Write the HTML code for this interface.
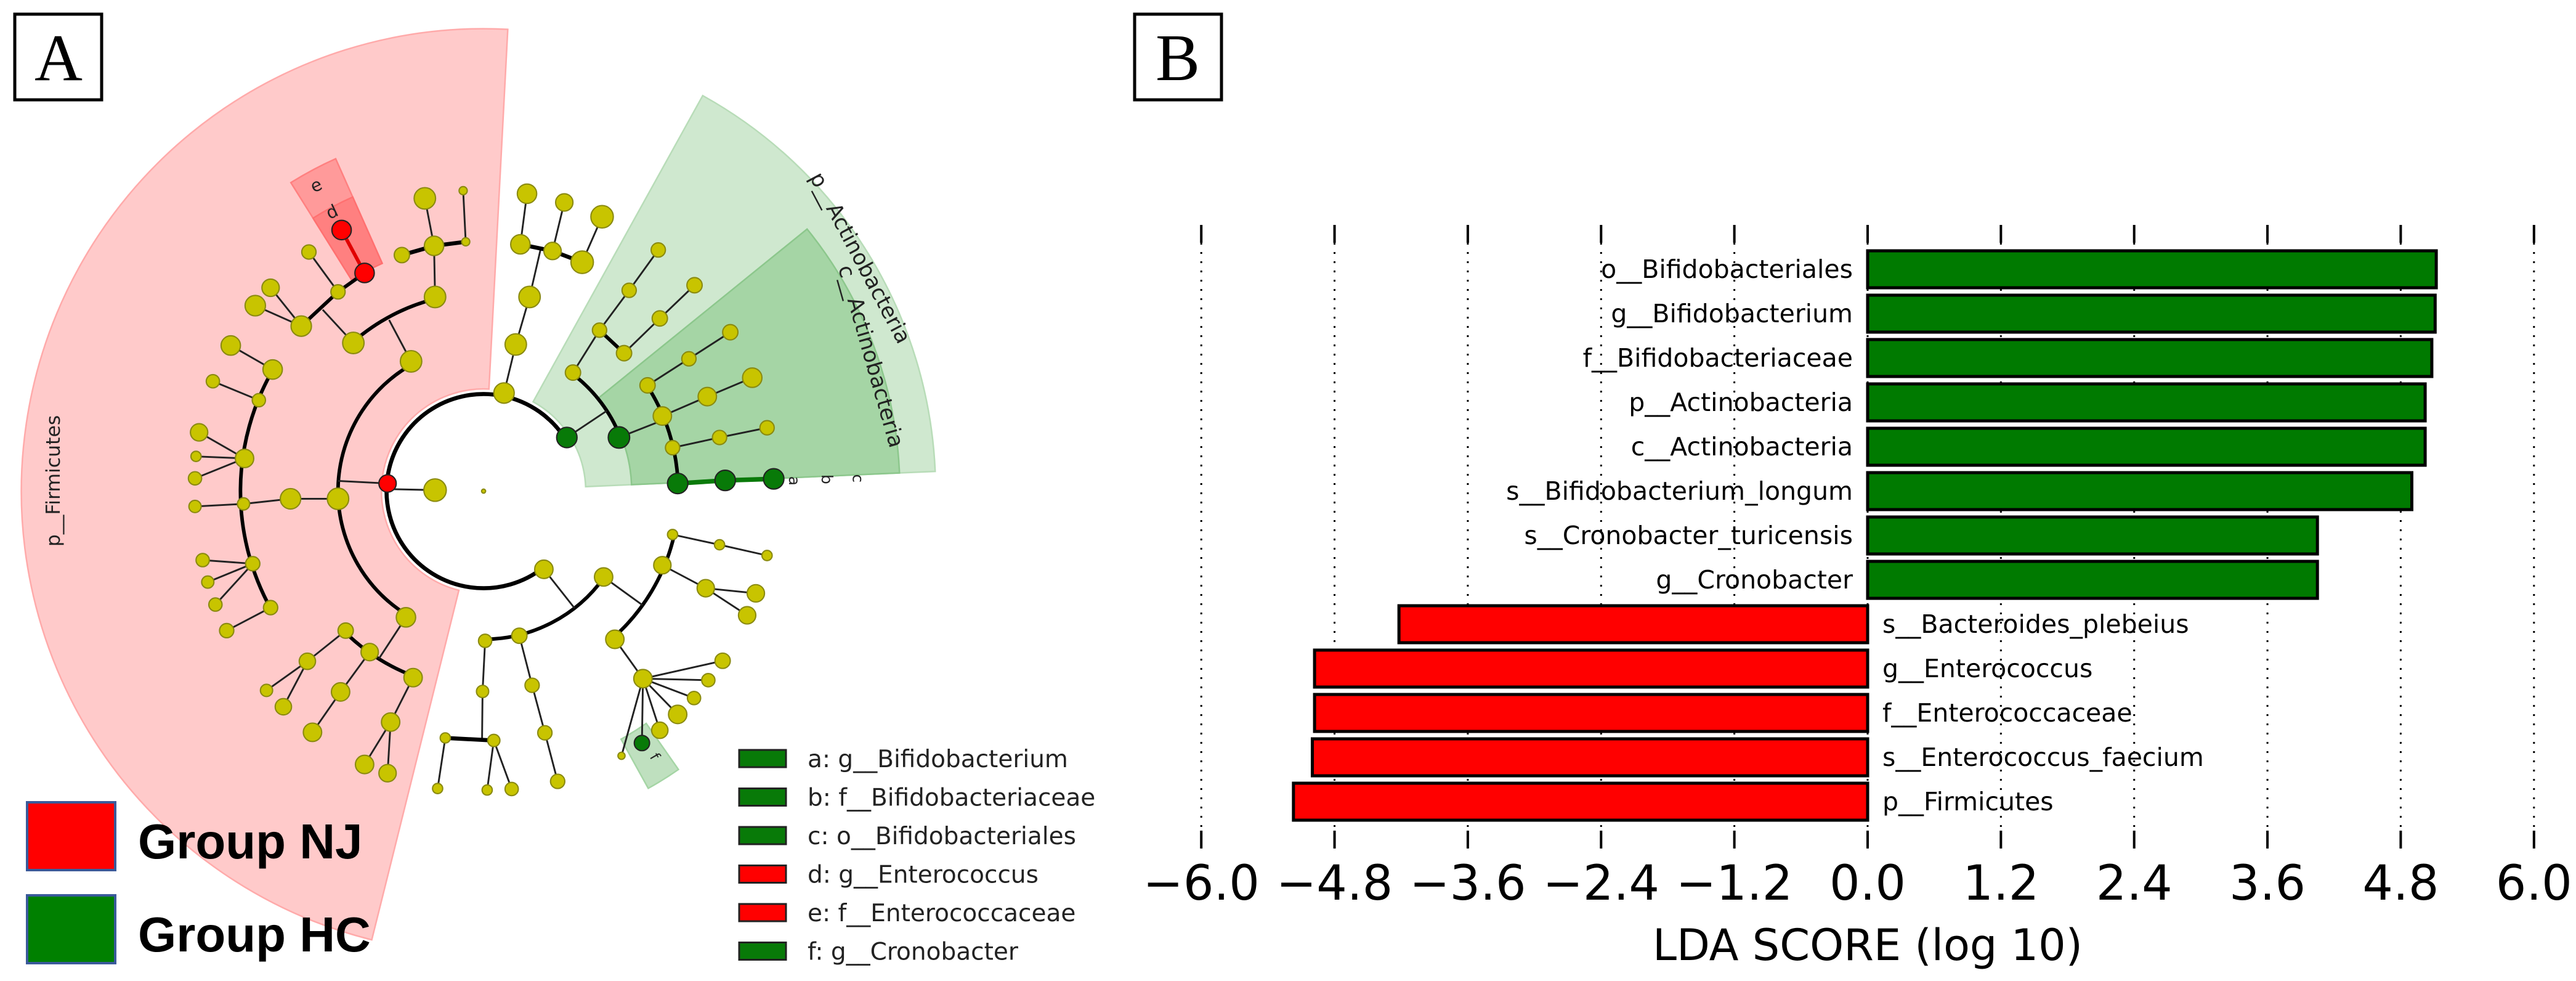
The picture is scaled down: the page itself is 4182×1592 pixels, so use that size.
<!DOCTYPE html>
<html><head><meta charset="utf-8"><style>
html,body{margin:0;padding:0;background:#fff;}
svg{display:block;}
</style></head><body>
<svg id="root" xmlns="http://www.w3.org/2000/svg" width="4182" height="1592" viewBox="0 0 4182 1592">
<rect x="0" y="0" width="4182" height="1592" fill="#fff"/>
<g>
<rect x="24" y="23" width="141" height="139" fill="#fff" stroke="#000" stroke-width="5"/>
<text x="95" y="130" font-family="Liberation Serif, serif" font-size="108" text-anchor="middle">A</text>
</g>
<g>
<rect x="1842" y="23" width="141" height="139" fill="#fff" stroke="#000" stroke-width="5"/>
<text x="1912" y="130" font-family="Liberation Serif, serif" font-size="108" text-anchor="middle">B</text>
</g>
<g id="clado" transform="translate(300 200) scale(0.8292)"></g>
<g>
<rect x="44" y="1302" width="143" height="110" fill="#ff0000" stroke="#3a5a9a" stroke-width="4"/>
<text x="224" y="1393" font-family="Liberation Sans, sans-serif" font-weight="bold" font-size="80">Group NJ</text>
<rect x="44" y="1453" width="143" height="110" fill="#008000" stroke="#3a5a9a" stroke-width="4"/>
<text x="224" y="1544" font-family="Liberation Sans, sans-serif" font-weight="bold" font-size="80">Group HC</text>
</g>
<g id="cladoLegend"></g>
<g id="bars"></g>
</svg>
<script>
const NS='http://www.w3.org/2000/svg';
function mk(tag,attrs,parent){const e=document.createElementNS(NS,tag);for(const k in attrs)e.setAttribute(k,attrs[k]);parent.appendChild(e);return e;}

/* ---------- LDA bar chart data ---------- */
const taxa=['o__Bifidobacteriales','g__Bifidobacterium','f__Bifidobacteriaceae','p__Actinobacteria','c__Actinobacteria','s__Bifidobacterium_longum','s__Cronobacter_turicensis','g__Cronobacter','s__Bacteroides_plebeius','g__Enterococcus','f__Enterococcaceae','s__Enterococcus_faecium','p__Firmicutes'];
const ldaScores=[5.12,5.11,5.08,5.02,5.02,4.90,4.05,4.05,-4.22,-4.98,-4.98,-5.00,-5.17];
const tickValues=[-6.0,-4.8,-3.6,-2.4,-1.2,0.0,1.2,2.4,3.6,4.8,6.0];
const tickLabels=['\u22126.0','\u22124.8','\u22123.6','\u22122.4','\u22121.2','0.0','1.2','2.4','3.6','4.8','6.0'];

const bars=document.getElementById('bars');
const X0=3032, PXU=180.3, ROW0=407, PITCH=72, BH=60;
const xs=v=>X0+v*PXU;
const ys=i=>ROW0+i*PITCH;
const F='DejaVu Sans, Liberation Sans, sans-serif';
tickValues.forEach((v,i)=>{
  const x=xs(v);
  const g=mk('line',{x1:x,y1:394,x2:x,y2:1348,stroke:'#000','stroke-width':3,'stroke-dasharray':'3 12'},bars);
  
  
  const t1=mk('line',{x1:x,y1:365,x2:x,y2:394,stroke:'#000','stroke-width':4},bars);
  
  
  const t2=mk('line',{x1:x,y1:1348,x2:x,y2:1377,stroke:'#000','stroke-width':4},bars);
  
  
  const tl=mk('text',{x:x,y:1460,'font-family':F,'font-size':78,'text-anchor':'middle'},bars);
  tl.textContent=tickLabels[i];
  
  
});
taxa.forEach((name,i)=>{
  const v=ldaScores[i];
  const x1=Math.min(xs(0),xs(v)), w=Math.abs(xs(v)-xs(0));
  const r=mk('rect',{x:x1,y:ys(i),width:w,height:BH,fill:v>0?'#007a00':'#ff0000',stroke:'#000','stroke-width':5},bars);
  
  
  const t=mk('text',{x:v>0?xs(0)-24:xs(0)+24,y:ys(i)+BH/2+14,'font-family':F,'font-size':41,'text-anchor':v>0?'end':'start'},bars);
  t.textContent=name;
  
  
});
const xt=mk('text',{x:xs(0),y:1558,'font-family':F,'font-size':70,'text-anchor':'middle'},bars);
xt.textContent='LDA SCORE (log 10)';



/* ---------- cladogram (diagram, zoom-frame coords) ---------- */
const cl=document.getElementById('clado');
const C=[585,720];
const rad=d=>d*Math.PI/180;
const P=(r,a)=>[C[0]+r*Math.cos(rad(a)),C[1]+r*Math.sin(rad(a))];
function wedge(r1,r2,a1,a2,fill,stroke,name){
  const p1=P(r2,a1),p2=P(r2,a2),p3=P(r1,a2),p4=P(r1,a1);
  const large=(a2-a1)>180?1:0;
  const d=`M${p1} A${r2} ${r2} 0 ${large} 1 ${p2} L${p3} A${r1} ${r1} 0 ${large} 0 ${p4} Z`;
  const e=mk('path',{d:d,fill:fill,stroke:stroke,'stroke-width':3},cl);
  
  
}
wedge(200,905,104,273,'#ffcaca','#ffaaaa','firmicutes-wedge');
wedge(200,885,299,357.5,'#cfe8cf','#b8dcb8','actinobacteria-phylum-wedge');
wedge(290,815,321,357.5,'#a5d5a5','#8cc78c','actinobacteria-class-wedge');
wedge(488,712,238,246,'#ff9a9a','#ff8080','enterococcaceae-wedge');
wedge(488,630,238,246,'#ff8080','#ff7070','enterococcus-wedge');
wedge(555,665,55,61,'#bfe0bf','#a5d5a5','cronobacter-wedge');

function arc(r,a1,a2,w,col){
  const p1=P(r,a1),p2=P(r,a2);const large=(a2-a1)>180?1:0;
  const e=mk('path',{d:`M${p1} A${r} ${r} 0 ${large} 1 ${p2}`,fill:'none',stroke:col||'#000','stroke-width':w},cl);
  
  
}
function line(pts,w,col){
  const e=mk('polyline',{points:pts.map(p=>p.join(',')).join(' '),fill:'none',stroke:col||'#222','stroke-width':w,'stroke-linejoin':'round'},cl);
  
  
}
arc(190,52,327,8);
arc(285,122,241,7);
arc(388,229,256,7);
arc(476,151,210,7);
arc(387,111,135,7);
arc(288,307,338.4,7);
arc(381,327,358,7);
arc(290,35.6,89.4,7);
arc(383,13,48.5,7);
const thin=[
[[397,705],[300,700]],[[400,716],[490,718]],[[443,466],[400,385]],[[490,340],[488,240]],[[488,240],[470,147]],[[550,232],[545,132]],
[[330,430],[270,365]],[[300,330],[243,252]],[[228,397],[168,322]],[[228,397],[138,357]],
[[300,735],[207,735],[115,745],[20,750]],[[172,482],[90,435]],[[145,542],[55,505]],
[[117,656],[28,605]],[[117,656],[22,652]],[[117,656],[20,695]],
[[133,862],[35,855]],[[133,862],[45,898]],[[133,862],[60,942]],[[168,948],[82,993]],
[[433,967],[380,1048]],[[315,993],[240,1053],[160,1110]],[[240,1053],[193,1142]],
[[362,1035],[305,1113],[250,1192]],[[447,1085],[403,1172],[352,1255]],[[403,1172],[397,1272]],
[[625,528],[648,433],[675,340],[697,245]],[[657,237],[670,138]],[[720,250],[743,155]],[[778,272],[817,183]],
[[748,615],[826,563]],[[760,488],[812,405],[870,327],[927,248]],[[860,450],[930,382],[998,317]],
[[850,615],[939,580]],[[906,513],[987,461],[1068,409]],[[935,573],[1023,535],[1111,498]],[[955,635],[1047,615],[1140,596]],
[[703,873],[763,949]],[[588,1013],[583,1112],[582,1205]],[[510,1203],[495,1302]],[[605,1208],[592,1305]],[[605,1208],[640,1303]],
[[655,1003],[680,1100],[705,1193],[730,1288]],[[820,888],[896,943]],
[[955,805],[1047,825],[1140,846]],[[935,865],[1020,910],[1118,920]],[[1020,910],[1101,963]],
[[842,1010],[897,1087]],[[897,1087],[1053,1052]],[[897,1087],[1025,1090]],[[897,1087],[997,1125]],[[897,1087],[965,1157]],[[897,1087],[930,1188]],[[897,1087],[895,1213]],[[897,1087],[855,1238]]
];
thin.forEach(p=>line(p,3.5));
line([[425,258],[488,240],[550,232]],8,'#000');
line([[228,397],[300,330],[352,293]],7,'#000');
line([[812,405],[860,450]],7,'#000');
line([[657,237],[720,250],[778,272]],8,'#000');
line([[510,1203],[605,1208]],8,'#000');
line([[965,705],[1058,699],[1153,696]],9,'#0a7a0a');
line([[307,209],[352,293]],7,'#e00000');
const Y='#c8c400',G='#087a08',R='#ff0000';
const nodes=[
[397,705,17,R],[490,718,22,Y],[585,720,4,Y],
[443,466,21,Y],[300,735,21,Y],[433,967,19,Y],[330,430,21,Y],[490,340,21,Y],[488,240,19,Y],[470,147,21,Y],[425,258,15,Y],[550,232,8,Y],[545,132,8,Y],
[300,330,14,Y],[228,397,20,Y],[168,322,17,Y],[138,357,20,Y],[243,252,14,Y],[352,293,19,R],[307,209,19,R],
[207,735,20,Y],[115,745,12,Y],[20,750,12,Y],[172,482,19,Y],[145,542,13,Y],[117,656,18,Y],[133,862,14,Y],[168,948,14,Y],
[90,435,19,Y],[55,505,13,Y],[28,605,17,Y],[22,652,10,Y],[20,695,13,Y],[35,855,13,Y],[45,898,12,Y],[60,942,13,Y],[82,993,14,Y],
[315,993,15,Y],[362,1035,17,Y],[447,1085,18,Y],[240,1053,16,Y],[160,1110,12,Y],[193,1142,16,Y],[305,1113,18,Y],[250,1192,18,Y],[403,1172,18,Y],[352,1255,18,Y],[397,1272,17,Y],
[625,528,20,Y],[648,433,21,Y],[675,340,21,Y],[657,237,19,Y],[720,250,17,Y],[778,272,22,Y],[670,138,19,Y],[743,155,17,Y],[817,183,22,Y],
[748,615,20,G],[850,615,21,G],[760,488,15,Y],[812,405,14,Y],[870,327,14,Y],[927,248,14,Y],[860,450,15,Y],[930,382,15,Y],[998,317,15,Y],
[906,513,15,Y],[935,573,18,Y],[955,635,14,Y],[965,705,20,G],[1058,699,20,G],[1153,696,20,G],
[987,461,14,Y],[1068,409,15,Y],[1023,535,18,Y],[1111,498,19,Y],[1047,615,14,Y],[1140,596,14,Y],
[703,873,18,Y],[588,1013,13,Y],[655,1003,15,Y],[820,888,18,Y],[583,1112,12,Y],[510,1203,10,Y],[605,1208,12,Y],[495,1302,10,Y],[592,1305,10,Y],[640,1303,13,Y],
[680,1100,14,Y],[705,1193,14,Y],[730,1288,14,Y],[955,805,10,Y],[1047,825,10,Y],[1140,846,10,Y],[935,865,17,Y],[1020,910,17,Y],[1118,920,17,Y],[1101,963,17,Y],
[842,1010,18,Y],[897,1087,18,Y],[1053,1052,15,Y],[1025,1090,13,Y],[997,1125,13,Y],[965,1157,18,Y],[930,1188,16,Y],[895,1213,15,G],[855,1238,7,Y]
];
nodes.forEach(n=>{
  const c=mk('circle',{cx:n[0],cy:n[1],r:n[2],fill:n[3],stroke:n[3]===Y?'#8a8a10':'#222','stroke-width':2.5},cl);
  
  
});
function ctext(str,x,y,rot,size,name){
  const t=mk('text',{x:x,y:y,'font-family':F,'font-size':size,'text-anchor':'middle',transform:`rotate(${rot} ${x} ${y})`,fill:'#222'},cl);
  t.textContent=str;
  
  
}
ctext('p__Actinobacteria',1310,270,62,42,'actinobacteria-phylum-label');
ctext('c__Actinobacteria',1330,460,74,42,'actinobacteria-class-label');
ctext('p__Firmicutes',-245,700,-90,38,'firmicutes-label');
ctext('e',262,132,-25,34,'clade-label-e');
ctext('d',293,184,-25,34,'clade-label-d');
ctext('a',1183,700,90,30,'clade-label-a');
ctext('b',1247,697,90,30,'clade-label-b');
ctext('c',1308,695,90,30,'clade-label-c');
ctext('f',912,1244,60,28,'clade-label-f');

const lg=document.getElementById('cladoLegend');
const legText=['a: g__Bifidobacterium','b: f__Bifidobacteriaceae','c: o__Bifidobacteriales','d: g__Enterococcus','e: f__Enterococcaceae','f: g__Cronobacter'];
const legCol=['#087a08','#087a08','#087a08','#ff0000','#ff0000','#087a08'];
legText.forEach((s,i)=>{
  const y=1231+i*62.5;
  const r=mk('rect',{x:1200,y:y-14,width:76,height:28,fill:legCol[i],stroke:'#222','stroke-width':3},lg);
  
  
  const t=mk('text',{x:1311,y:y+14,'font-family':F,'font-size':39,fill:'#222'},lg);
  t.textContent=s;
  
  
});
</script>
</body></html>
